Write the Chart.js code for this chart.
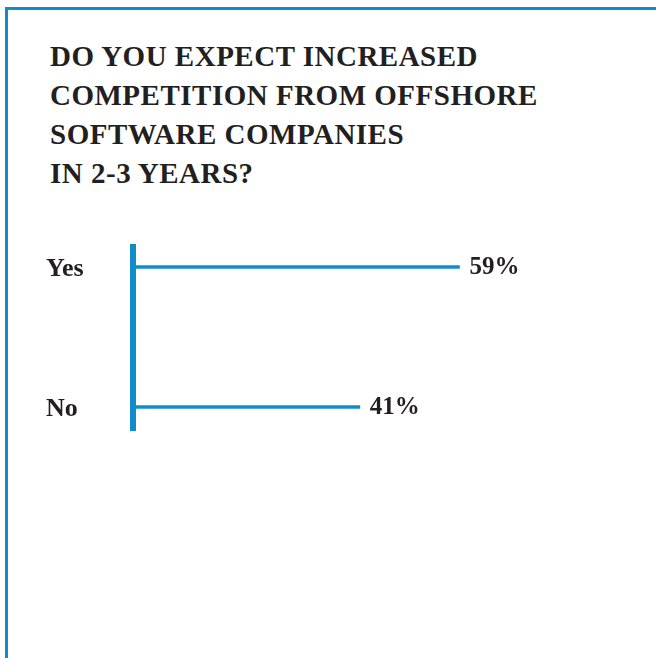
<!DOCTYPE html>
<html lang="en">
<head>
  <meta charset="UTF-8">
  <title>Offshore Competition Survey</title>
  <style>
    *{box-sizing:border-box;margin:0;padding:0}
    body{background:#fff;width:656px;height:658px;overflow:hidden;position:relative}
    /* blue frame: top and left rules only */
    .frame{
      position:absolute;left:5px;top:7px;width:660px;height:660px;
      border-top:3px solid #118ccb;border-left:3px solid #118ccb;
    }
    h1{
      position:absolute;left:50px;top:37px;
      font-family:'Liberation Serif',serif;font-weight:bold;font-size:29px;
      line-height:39px;color:#231f20;letter-spacing:0.5px;
    }
    .wrap{position:absolute;left:0;top:0;width:656px;height:658px}
    canvas{display:block}
  </style>
</head>
<body>
  <div class="frame"></div>
  <h1>DO YOU EXPECT INCREASED<br>COMPETITION FROM OFFSHORE<br>SOFTWARE COMPANIES<br>IN 2-3 YEARS?</h1>
  <div class="wrap"><canvas id="chart" width="656" height="658"></canvas></div>

  <script src="https://cdn.jsdelivr.net/npm/chart.js"></script>
  <script>
    const categories = ['Yes', 'No'];
    const values = [59, 41];

    const blue = '#118ccb';
    const ink = '#231f20';
    const serif = "'Liberation Serif', serif";

    // percentage written just past the end of each bar
    const valueLabels = {
      id: 'valueLabels',
      afterDatasetsDraw(chart) {
        const ctx = chart.ctx;
        ctx.save();
        ctx.font = `bold 25px ${serif}`;
        ctx.fillStyle = ink;
        ctx.textBaseline = 'middle';
        ctx.textAlign = 'left';
        chart.getDatasetMeta(0).data.forEach((bar, i) => {
          ctx.fillText(`${values[i]}%`, bar.x + 10, bar.y + 1);
        });
        ctx.restore();
      }
    };

    new Chart(document.getElementById('chart'), {
      type: 'bar',
      data: {
        datasets: [{
          data: categories.map((c, i) => ({ x: values[i], y: i })),
          backgroundColor: blue,
          borderWidth: 0,
          barThickness: 3
        }]
      },
      options: {
        indexAxis: 'y',
        responsive: false,
        animation: false,
        devicePixelRatio: 1,
        layout: { padding: { left: 46, top: 247, right: 25, bottom: 228 } },
        plugins: { legend: { display: false }, tooltip: { enabled: false } },
        scales: {
          x: { type: 'linear', min: 0, max: 90, display: false },
          y: {
            type: 'linear',
            reverse: true,
            offset: false,
            min: -0.143,
            max: 1.164,
            grid: { display: false },
            border: { display: true, color: blue, width: 6 },
            afterFit(scale) { scale.width = 87; },
            afterBuildTicks(scale) { scale.ticks = categories.map((c, i) => ({ value: i })); },
            ticks: {
              crossAlign: 'far',
              labelOffset: 2,
              color: ink,
              font: { family: serif, size: 26, weight: 'bold' },
              callback: v => categories[v]
            }
          }
        }
      },
      plugins: [valueLabels]
    });
  </script>
</body>
</html>
